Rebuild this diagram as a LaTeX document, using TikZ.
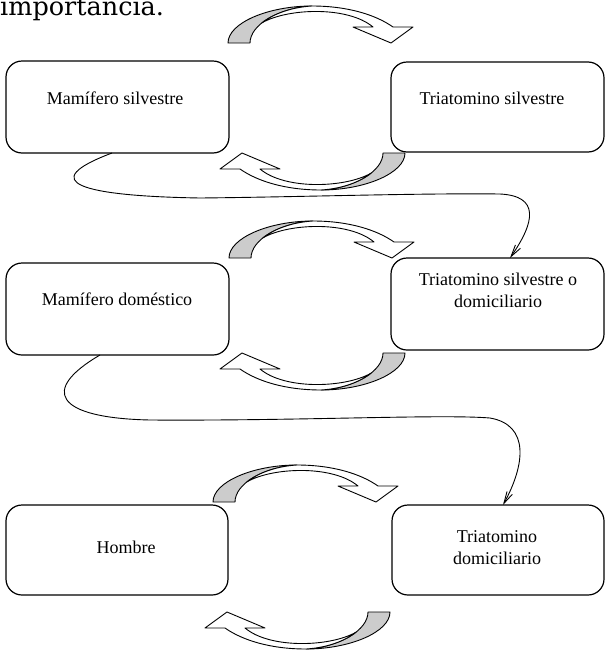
\documentclass[tikz,border=0pt]{standalone}
\usepackage{fontspec}
\setmainfont{Liberation Serif}
\newfontfamily\headfont{DejaVu Serif}
\usetikzlibrary{arrows.meta}
\definecolor{shade}{RGB}{204,204,204}
\tikzset{
  boxn/.style={draw, rounded corners=16pt, line width=1.2pt, inner sep=0pt, outer sep=0pt},
  lbl/.style={inner sep=0pt, anchor=base, font=\fontsize{18}{22}\selectfont},
  conn/.style={line width=0.9pt, -{Straight Barb[length=12pt,width=6pt,line width=0.9pt]}},
  arw/.style={line width=0.9pt, line join=round},
  curvarrow/.pic={
    \filldraw[arw, fill=shade] (0,0) .. controls (0,-20) and (40,-37) .. (84,-37)
      .. controls (50,-35) and (22,-18) .. (22,0) -- cycle;
    \filldraw[arw, fill=white] (84,-37) .. controls (120,-37) and (148,-28) .. (165,-16)
      -- (185,-16) -- (163,0) -- (125,-16) -- (145,-16)
      .. controls (120,-37) and (60,-35) .. (34,-20.2)
      .. controls (45.4,-29.2) and (63.6,-35.8) .. (84,-37) -- cycle;
  }
}
\begin{document}
\begin{tikzpicture}[x=1pt,y=-1pt]
\useasboundingbox (0,0) rectangle (605,651);
\clip (0,0) rectangle (605,651);

\node[inner sep=0pt, anchor=base west, font=\headfont\fontsize{25.5}{30}\selectfont] (title) at (0,15) {importancia.};

% boxes
\node[boxn, minimum width=223pt, minimum height=92pt] (m1) at (117.5,107) {};
\node[boxn, minimum width=213pt, minimum height=90pt] (t1) at (497.5,107) {};
\node[boxn, minimum width=223pt, minimum height=92pt] (m2) at (117.5,309) {};
\node[boxn, minimum width=213pt, minimum height=92pt] (t2) at (497.5,304) {};
\node[boxn, minimum width=222pt, minimum height=90pt] (m3) at (117,550) {};
\node[boxn, minimum width=212pt, minimum height=90pt] (t3) at (498,550) {};

% labels
\node[lbl] (lm1) at (115,104) {Mamífero silvestre};
\node[lbl] (lt1) at (492,104) {Triatomino silvestre};
\node[lbl] (lm2) at (117,305) {Mamífero doméstico};
\node[lbl] (lt2) at (498,285) {\begin{tabular}[t]{@{}c@{}}Triatomino silvestre o\\domiciliario\end{tabular}};
\node[lbl] (lm3) at (126,553) {Hombre};
\node[lbl] (lt3) at (497,542) {\begin{tabular}[t]{@{}c@{}}Triatomino\\domiciliario\end{tabular}};

% curved arrows
\pic at (228,43) {curvarrow};
\pic[rotate=180] at (405,153) {curvarrow};
\pic at (229,258) {curvarrow};
\pic[rotate=180] at (405,353) {curvarrow};
\pic at (213,502) {curvarrow};
\pic[rotate=180] at (390,612) {curvarrow};

% connectors
\draw[conn] ([xshift=-5.5pt]m1.south) .. controls (35,182) and (80,196) .. (200,198)
  .. controls (300,197) and (420,193) .. (500,194)
  .. controls (540,196) and (535,222) .. ([xshift=12.5pt]t2.north);
\draw[conn] ([xshift=-17.5pt]m2.south) .. controls (40,390) and (55,418) .. (150,420)
  .. controls (300,421) and (440,414) .. (490,418)
  .. controls (530,425) and (525,465) .. ([xshift=5pt]t3.north);
\end{tikzpicture}
\end{document}
